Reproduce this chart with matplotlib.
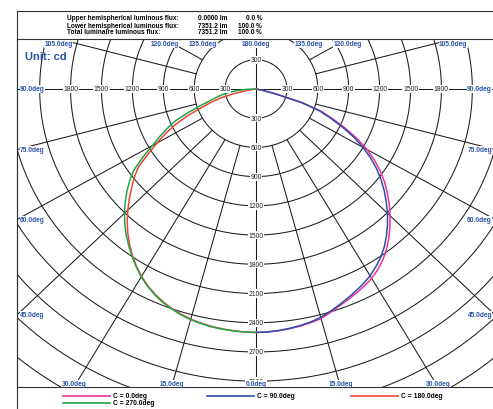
import numpy as np
import matplotlib
matplotlib.use('Agg')
import matplotlib.pyplot as plt
from matplotlib.lines import Line2D

plt.rcParams['font.family'] = ['Liberation Sans', 'DejaVu Sans']

# photometric data (cd), gamma measured from nadir in 2.5 deg steps
gamma = [0, 2.5, 5, 7.5, 10, 12.5, 15, 17.5, 20, 22.5, 25, 27.5, 30, 32.5,
         35, 37.5, 40, 42.5, 45, 47.5, 50, 52.5, 55, 57.5, 60, 62.5, 65,
         67.5, 70, 72.5, 75, 77.5, 80, 82.5, 85, 87.5, 90]
c0 = [2500, 2498, 2492, 2483, 2472, 2458, 2440, 2405, 2370, 2340, 2310, 2280,
      2245, 2200, 2145, 2080, 2005, 1925, 1840, 1755, 1665, 1575, 1475, 1365,
      1245, 1110, 960, 810, 680, 480, 210, 70, 0, 0, 0, 0, 0]
c90 = [2500, 2497, 2490, 2480, 2467, 2450, 2428, 2395, 2360, 2325, 2290, 2255,
       2215, 2165, 2110, 2045, 1970, 1890, 1805, 1715, 1625, 1530, 1430, 1320,
       1200, 1070, 925, 785, 655, 460, 200, 65, 0, 0, 0, 0, 0]
c180 = [2500, 2497, 2492, 2485, 2476, 2463, 2446, 2424, 2396, 2363, 2323, 2276,
        2222, 2160, 2090, 2015, 1935, 1850, 1760, 1668, 1575, 1490, 1390, 1240,
        1110, 990, 860, 720, 570, 460, 350, 220, 80, 0, 0, 0, 0]
c270 = [2500, 2498, 2494, 2488, 2480, 2468, 2452, 2430, 2402, 2370, 2330, 2282,
        2228, 2165, 2098, 2030, 1960, 1885, 1805, 1722, 1636, 1545, 1445, 1300,
        1160, 1050, 945, 840, 690, 560, 460, 390, 330, 260, 180, 90, 0]

series = [('C = 0.0deg', c0, 1, '#e8349b'),
          ('C = 90.0deg', c90, 1, '#2f4fa6'),
          ('C = 180.0deg', c180, -1, '#f04438'),
          ('C = 270.0deg', c270, -1, '#20a64a')]

flux_rows = [('Upper hemispherical luminous flux:', '0.0000 lm', '0.0 %'),
             ('Lower hemispherical luminous flux:', '7351.2 lm', '100.0 %'),
             ('Total luminaire luminous flux:', '7351.2 lm', '100.0 %')]

rings = np.arange(300, 4201, 300)
h_labels = np.arange(300, 1801, 300)
down_labels = np.arange(300, 3001, 300)
edge_angles = [0, 15, 30, 45, 60, 75, 90, 105, 120, 135]

W, H = 493, 410
def fx(px):
    return px / W
def fy(py):
    return 1 - py / H

blue = '#2a52a8'
grid_c = '#1c1c1c'

fig = plt.figure(figsize=(W / 100, H / 100), dpi=100)
ax = fig.add_axes([fx(17), fy(388), (495 - 17) / W, (388 - 40) / H])
xmax, ytop, ybot = 2320, 513, -3060
ax.set_xlim(-xmax, xmax)
ax.set_ylim(ybot, ytop)
ax.set_xticks([])
ax.set_yticks([])
for s in ax.spines.values():
    s.set_color('#333333')
    s.set_linewidth(0.8)

# rings
t = np.linspace(0, 2 * np.pi, 721)
for r in rings:
    ax.plot(r * np.sin(t), r * np.cos(t), color=grid_c, lw=0.75, zorder=1)

# axes through centre
ax.plot([-xmax, xmax], [0, 0], color=grid_c, lw=0.75, zorder=1)
ax.plot([0, 0], [ybot, ytop], color=grid_c, lw=0.75, zorder=1)

# radial lines every 15 deg, starting at the 600 ring
for g in range(15, 180, 15):
    if g == 90:
        continue
    a = np.radians(g)
    for side in (1, -1):
        ax.plot([side * 600 * np.sin(a), side * 5000 * np.sin(a)],
                [-600 * np.cos(a), -5000 * np.cos(a)],
                color=grid_c, lw=0.75, zorder=1)

# curves
for name, vals, side, col in series:
    a = np.radians(gamma)
    v = np.array(vals, dtype=float)
    ax.plot(side * v * np.sin(a), -v * np.cos(a), color=col, lw=1.1, zorder=3,
            solid_joinstyle='round')

# intensity value labels
lab_kw = dict(fontsize=4.9, color='#222222', ha='center', va='center', zorder=4,
              bbox=dict(facecolor='white', edgecolor='none', pad=0.4))
for r in h_labels:
    ax.text(r, 0, str(r), **lab_kw)
    ax.text(-r, 0, str(r), **lab_kw)
ax.text(0, 300, '300', **lab_kw)
for r in down_labels:
    ax.text(0, -r, str(r), clip_on=True, **lab_kw)

# angle labels where the rays leave the frame
def edge_point(g, side):
    a = np.radians(g)
    dx, dy = side * np.sin(a), -np.cos(a)
    hits = []
    if abs(dx) > 1e-9:
        hits.append((xmax / abs(dx), 'side'))
    if dy > 1e-9:
        hits.append((ytop / dy, 'top'))
    if dy < -1e-9:
        hits.append((ybot / dy, 'bottom'))
    tt, edge = min(hits)
    return dx * tt, dy * tt, edge

ang_kw = dict(fontsize=4.8, color=blue, fontweight='bold', zorder=5,
              textcoords='offset points',
              bbox=dict(facecolor='white', edgecolor='none', pad=0.2))
def put_angle(g, side):
    x, y, edge = edge_point(g, side)
    txt = '%.1fdeg' % g
    if edge == 'side':
        ha = 'left' if side < 0 else 'right'
        off = (2.2 if side < 0 else -2.2, 0)
        ax.annotate(txt, (x, y), xytext=off, ha=ha, va='center', **ang_kw)
    elif edge == 'top':
        ax.annotate(txt, (x, y), xytext=(0, -3.6), ha='center', va='center', **ang_kw)
    else:
        ax.annotate(txt, (x, y), xytext=(0, 2.6), ha='center', va='center', **ang_kw)

for g in edge_angles:
    put_angle(g, -1)
    if g != 0:
        put_angle(g, 1)
ax.annotate('180.0deg', (0, ytop), xytext=(0, -3.6), ha='center', va='center', **ang_kw)

ax.text(-xmax + 8 / 0.103, ytop - 17 / 0.0974, 'Unit: cd',
        fontsize=8, fontweight='bold', color=blue, ha='left', va='center', zorder=5)

# header box and frame
fig.add_artist(Line2D([fx(17), 1], [fy(12), fy(12)], color='#333333', lw=0.8))
fig.add_artist(Line2D([fx(17), fx(17)], [fy(12), 0], color='#333333', lw=0.8))
for i, (lbl, val, pct) in enumerate(flux_rows):
    yy = fy(19 + i * 7)
    fig.text(fx(67), yy, lbl, fontsize=4.7, fontweight='bold', va='center', ha='left')
    fig.text(fx(227), yy, val, fontsize=4.7, fontweight='bold', va='center', ha='right')
    fig.text(fx(262), yy, pct, fontsize=4.7, fontweight='bold', va='center', ha='right')

# legend
leg_pos = [(63, 397), (207, 397), (351, 397), (63, 404)]
for (name, vals, side, col), (lx, ly) in zip(series, leg_pos):
    fig.add_artist(Line2D([fx(lx), fx(lx + 47)], [fy(ly), fy(ly)], color=col, lw=1.2))
    fig.text(fx(lx + 50), fy(ly), name, fontsize=4.9, fontweight='bold',
             va='center', ha='left')

fig.savefig('out.png', dpi=100)
